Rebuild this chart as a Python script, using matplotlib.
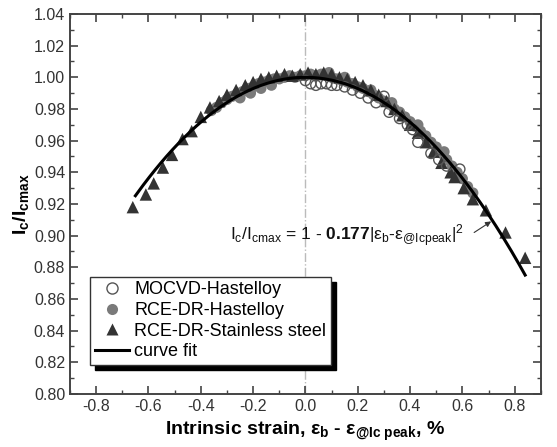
import numpy as np
import matplotlib
matplotlib.use("Agg")
import matplotlib.pyplot as plt
from matplotlib.lines import Line2D
from matplotlib.patches import Rectangle
from matplotlib.ticker import MultipleLocator, FormatStrFormatter

plt.rcParams["font.family"] = ["Liberation Sans", "DejaVu Sans"]
plt.rcParams["mathtext.fontset"] = "custom"
plt.rcParams["mathtext.rm"] = "Liberation Sans"
plt.rcParams["mathtext.it"] = "Liberation Sans:italic"
plt.rcParams["mathtext.bf"] = "Liberation Sans:bold"

# RCE-DR-Stainless steel (triangles)
ss_x = [-0.66, -0.61, -0.58, -0.545, -0.51, -0.47, -0.435, -0.40, -0.365, -0.33,
        -0.30, -0.265, -0.23, -0.20, -0.17, -0.14, -0.11, -0.08, -0.05, -0.02,
        0.01, 0.04, 0.07, 0.10, 0.13, 0.16, 0.19, 0.22, 0.25, 0.28,
        0.31, 0.34, 0.37, 0.40, 0.43, 0.46, 0.49, 0.52, 0.555, 0.57,
        0.605, 0.64, 0.69, 0.765, 0.84]
ss_y = [0.918, 0.926, 0.933, 0.943, 0.951, 0.961, 0.966, 0.975, 0.981, 0.985,
        0.989, 0.992, 0.995, 0.997, 0.999, 1.000, 1.001, 1.002, 1.001, 1.002,
        1.003, 1.002, 1.003, 1.002, 1.000, 0.999, 0.997, 0.995, 0.992, 0.989,
        0.985, 0.980, 0.976, 0.970, 0.965, 0.959, 0.953, 0.946, 0.940, 0.937,
        0.930, 0.923, 0.916, 0.902, 0.886]

# RCE-DR-Hastelloy (grey filled circles)
rh_x = [-0.36, -0.34, -0.32, -0.30, -0.28, -0.26, -0.24, -0.22, -0.20, -0.18,
        -0.16, -0.14, -0.12, -0.10, -0.08, -0.06, -0.04, -0.02, 0.00, 0.02,
        0.04, 0.06, 0.08, 0.10, 0.12, 0.14, 0.16, 0.18, 0.20, 0.22,
        0.24, 0.26, 0.28, 0.30, 0.32, 0.34, 0.36, 0.38, 0.40, 0.42,
        0.44, 0.46, 0.48, 0.50, 0.52, 0.54, 0.56, 0.58, 0.60, 0.62, 0.64,
        -0.25, -0.21, -0.17, -0.13, 0.09, 0.15, 0.25, 0.33, 0.43, 0.53]
rh_y = [0.979, 0.981, 0.984, 0.986, 0.988, 0.990, 0.991, 0.993, 0.994, 0.996,
        0.997, 0.998, 0.999, 0.999, 1.000, 1.001, 1.000, 1.001, 1.001, 1.002,
        1.001, 1.002, 1.001, 1.000, 0.999, 0.998, 0.997, 0.996, 0.994, 0.993,
        0.991, 0.989, 0.987, 0.985, 0.983, 0.980, 0.978, 0.975, 0.972, 0.969,
        0.966, 0.963, 0.959, 0.956, 0.952, 0.948, 0.944, 0.940, 0.936, 0.931, 0.927,
        0.987, 0.990, 0.993, 0.995, 1.003, 1.000, 0.992, 0.984, 0.970, 0.953]

# MOCVD-Hastelloy (open circles)
mo_x = [0.00, 0.02, 0.04, 0.06, 0.08, 0.10, 0.12, 0.15, 0.18, 0.21,
        0.24, 0.27, 0.30, 0.32, 0.36, 0.39, 0.41, 0.43, 0.48, 0.51,
        0.54, 0.59]
mo_y = [0.998, 0.996, 0.995, 0.996, 0.996, 0.995, 0.995, 0.994, 0.992, 0.990,
        0.987, 0.984, 0.988, 0.978, 0.974, 0.970, 0.967, 0.959, 0.952, 0.948,
        0.944, 0.942]

fit_coef = 0.177
fit_range = (-0.65, 0.84)

fig = plt.figure(figsize=(5.57, 4.47), dpi=100)
ax = fig.add_axes([0.1257, 0.1186, 0.8453, 0.8501])

ax.axvline(0, color="#bbbbbb", lw=1.0, ls="-.", zorder=1)

ax.scatter(rh_x, rh_y, s=64, marker="o", color="#7a7a7a", edgecolors="none", zorder=2)
ax.scatter(ss_x, ss_y, s=80, marker="^", color="#333333", edgecolors="none", zorder=3)
ax.scatter(mo_x, mo_y, s=55, marker="o", facecolors="none", edgecolors="#555555",
           linewidths=1.0, zorder=4)

xf = np.linspace(fit_range[0], fit_range[1], 200)
ax.plot(xf, 1 - fit_coef * xf ** 2, color="black", lw=2.2, zorder=5)

ax.set_xlim(-0.9, 0.9)
ax.set_ylim(0.80, 1.04)
ax.xaxis.set_major_locator(MultipleLocator(0.2))
ax.xaxis.set_minor_locator(MultipleLocator(0.1))
ax.yaxis.set_major_locator(MultipleLocator(0.02))
ax.yaxis.set_minor_locator(MultipleLocator(0.01))
ax.xaxis.set_major_formatter(FormatStrFormatter("%.1f"))
ax.yaxis.set_major_formatter(FormatStrFormatter("%.2f"))
ax.tick_params(which="both", direction="in", top=True, right=True,
               color="#444444", labelcolor="#333333", labelsize=11.5)
ax.tick_params(which="major", length=6, width=1.2)
ax.tick_params(which="minor", length=3, width=1.0)
for sp in ax.spines.values():
    sp.set_color("#444444")
    sp.set_linewidth(1.4)

ax.set_xlabel(r"Intrinsic strain, $\mathregular{ε_b}$ - $\mathregular{ε_{@Ic\ peak}}$, %",
              fontsize=14, fontweight="bold", labelpad=4)
ax.set_ylabel(r"$\mathbf{I_c/I_{cmax}}$", fontsize=14, labelpad=2)

ax.text(-0.29, 0.90,
        r"$\mathregular{I_c/I_{cmax}}$ = 1 - $\mathbf{0.177}$|$\mathregular{ε_b}$-$\mathregular{ε_{@Icpeak}}$|$\mathregular{^2}$",
        fontsize=12.5, ha="left", va="center", color="#111111")
ax.annotate("", xy=(0.71, 0.909), xytext=(0.645, 0.902),
            arrowprops=dict(arrowstyle="-|>", color="#333333", lw=0.8,
                            mutation_scale=8, shrinkA=0, shrinkB=0))

handles = [
    Line2D([], [], ls="none", marker="o", ms=8, mfc="white", mec="#555555", mew=1.0),
    Line2D([], [], ls="none", marker="o", ms=8, mfc="#7a7a7a", mec="none"),
    Line2D([], [], ls="none", marker="^", ms=9, mfc="#333333", mec="none"),
    Line2D([], [], color="black", lw=2.2),
]
labels = ["MOCVD-Hastelloy", "RCE-DR-Hastelloy", "RCE-DR-Stainless steel", "curve fit"]
leg = ax.legend(handles, labels, loc="upper left", bbox_to_anchor=(0.0425, 0.308),
                borderaxespad=0, fontsize=13, frameon=True, fancybox=False,
                edgecolor="#333333", framealpha=1, handlelength=1.9,
                handletextpad=0.3, labelspacing=0.2, borderpad=0.25)
leg.get_frame().set_linewidth(1.0)
leg.set_zorder(10)

fig.canvas.draw()
bb = leg.get_window_extent()
inv = ax.transAxes.inverted()
(sx0, sy0), (sx1, sy1) = inv.transform([[bb.x0 + 5, bb.y0 - 5], [bb.x1 + 5, bb.y1 - 5]])
ax.add_patch(Rectangle((sx0, sy0), sx1 - sx0, sy1 - sy0, transform=ax.transAxes,
                       color="black", zorder=9, clip_on=False))

fig.savefig("out.png", dpi=100)
